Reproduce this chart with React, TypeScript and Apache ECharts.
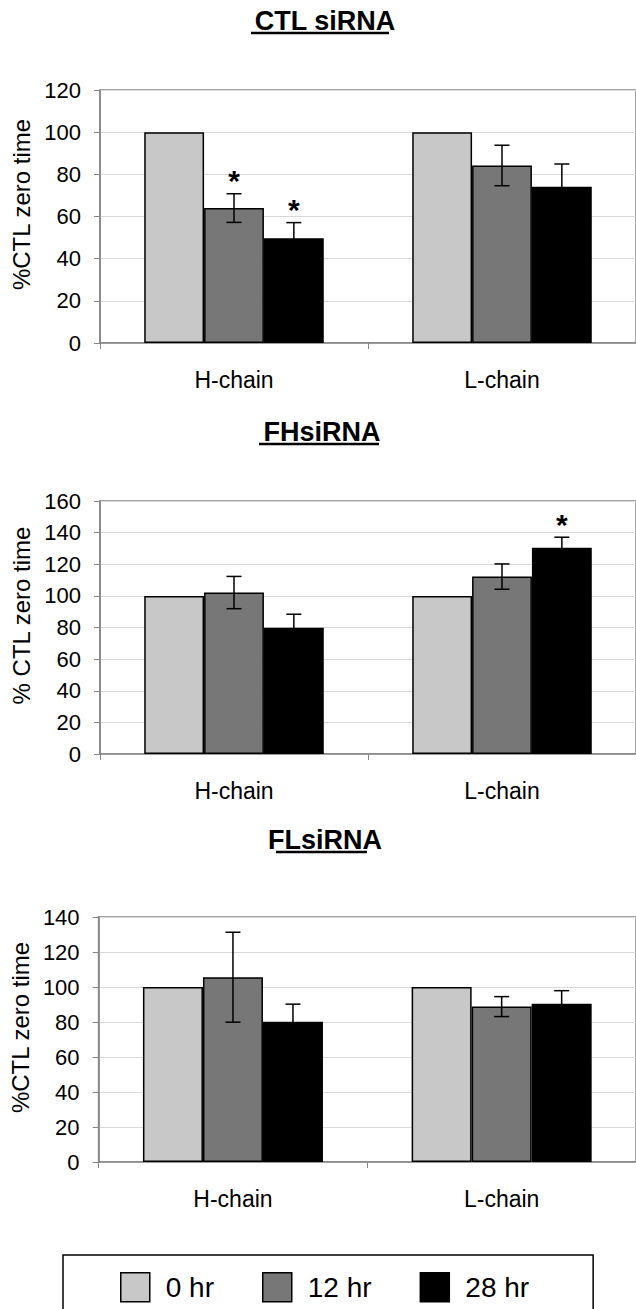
import React, { useEffect, useRef } from "react";
import * as echarts from "echarts";

const FONT = '"Liberation Sans", Arial, Helvetica, sans-serif';

const categories = ["H-chain", "L-chain"];
const timeLabels = ["0 hr", "12 hr", "28 hr"];
const barColors = ["#c8c8c8", "#777777", "#000000"];

// CTL siRNA
const ctl0hr = [100, 100];
const ctl12hr = [64, 84.2];
const ctl28hr = [49.7, 74.1];
const ctl12hrErr = [6.8, 9.6];
const ctl28hrErr = [7.4, 10.8];
const ctlStar12hr = [1, 0];
const ctlStar28hr = [1, 0];

// FHsiRNA
const fh0hr = [100, 100];
const fh12hr = [102.1, 112.2];
const fh28hr = [79.8, 130.5];
const fh12hrErr = [10.2, 8];
const fh28hrErr = [8.6, 6.6];
const fhStar12hr = [0, 0];
const fhStar28hr = [0, 1];

// FLsiRNA
const fl0hr = [100, 100];
const fl12hr = [105.6, 88.8];
const fl28hr = [80.1, 90.4];
const fl12hrErr = [25.7, 5.7];
const fl28hrErr = [10.1, 7.5];
const flStar12hr = [0, 0];
const flStar28hr = [0, 0];

const panelTitles = ["CTL siRNA", "FHsiRNA", "FLsiRNA"];
const yNames = ["%CTL zero time", "% CTL zero time", "%CTL zero time"];
const yMaxes = [120, 160, 140];
const yInterval = 20;

const CAT_GAP = 0.33;

function buildOption() {
  const panels = [
    { vals: [ctl0hr, ctl12hr, ctl28hr], errs: [null, ctl12hrErr, ctl28hrErr], stars: [null, ctlStar12hr, ctlStar28hr] },
    { vals: [fh0hr, fh12hr, fh28hr], errs: [null, fh12hrErr, fh28hrErr], stars: [null, fhStar12hr, fhStar28hr] },
    { vals: [fl0hr, fl12hr, fl28hr], errs: [null, fl12hrErr, fl28hrErr], stars: [null, flStar12hr, flStar28hr] },
  ];

  const layout = [
    { grid: { left: 100, top: 90, width: 540, height: 253 }, nameGap: 62, tx: 325, ty: 21, ul: [251, 389], ulY: 33 },
    { grid: { left: 100, top: 501, width: 540, height: 253 }, nameGap: 62, tx: 322, ty: 432, ul: [259, 379], ulY: 444 },
    { grid: { left: 98, top: 917, width: 546, height: 245 }, nameGap: 56, tx: 325, ty: 840, ul: [276, 367], ulY: 852 },
  ];

  const axisGray = "#868686";

  const grids: any[] = [];
  const xAxes: any[] = [];
  const yAxes: any[] = [];
  const series: any[] = [];
  const graphics: any[] = [];

  panels.forEach((p, pi) => {
    const L = layout[pi];
    grids.push({
      ...L.grid,
      show: true,
      borderColor: axisGray,
      borderWidth: 1.5,
      backgroundColor: "#ffffff",
      containLabel: false,
    });
    xAxes.push({
      type: "category",
      gridIndex: pi,
      data: categories,
      boundaryGap: true,
      axisLine: { show: true, lineStyle: { color: axisGray, width: 1.5 } },
      axisTick: { show: true, length: 6, alignWithLabel: false, lineStyle: { color: axisGray, width: 1 } },
      axisLabel: { fontSize: 23, color: "#000", margin: 25, fontFamily: FONT },
      splitLine: { show: false },
    });
    yAxes.push({
      type: "value",
      gridIndex: pi,
      min: 0,
      max: yMaxes[pi],
      interval: yInterval,
      axisLine: { show: true, lineStyle: { color: axisGray, width: 1.5 } },
      axisTick: { show: true, length: 6, lineStyle: { color: axisGray, width: 1 } },
      axisLabel: { fontSize: 22, color: "#000", margin: 19, fontFamily: FONT },
      splitLine: { show: true, lineStyle: { color: "#d9d9d9", width: 1 } },
      name: yNames[pi],
      nameLocation: "middle",
      nameRotate: 90,
      nameGap: L.nameGap,
      nameTextStyle: { fontSize: 24, color: "#000", fontFamily: FONT, padding: [0, 0, 0, 24] },
    });

    p.vals.forEach((v, si) => {
      series.push({
        name: timeLabels[si],
        type: "bar",
        xAxisIndex: pi,
        yAxisIndex: pi,
        data: v,
        barGap: "0%",
        barCategoryGap: CAT_GAP * 100 + "%",
        itemStyle: { color: barColors[si], borderColor: "#000", borderWidth: 1.5 },
        silent: true,
      });
    });

    const errData: any[] = [];
    p.vals.forEach((v, si) => {
      const e = p.errs[si];
      const st = p.stars[si];
      if (!e) return;
      v.forEach((val, ci) => {
        errData.push([ci, val, e[ci], si, st ? st[ci] : 0]);
      });
    });

    series.push({
      type: "custom",
      xAxisIndex: pi,
      yAxisIndex: pi,
      z: 10,
      silent: true,
      encode: { x: 0, y: 1 },
      data: errData,
      renderItem: (params: any, api: any) => {
        const ci = api.value(0);
        const val = api.value(1);
        const err = api.value(2);
        const si = api.value(3);
        const star = api.value(4);
        const catW = api.size([1, 0])[0];
        const bw = (catW * (1 - CAT_GAP)) / 3;
        const base = api.coord([ci, val]);
        const x = base[0] + (si - 1) * bw;
        const yTop = api.coord([ci, val + err])[1];
        const yBot = api.coord([ci, val - err])[1];
        const cap = 7.5;
        const ls = { stroke: "#000", lineWidth: 1.5 };
        const children: any[] = [
          { type: "line", shape: { x1: x, y1: yTop, x2: x, y2: yBot }, style: ls },
          { type: "line", shape: { x1: x - cap, y1: yTop, x2: x + cap, y2: yTop }, style: ls },
          { type: "line", shape: { x1: x - cap, y1: yBot, x2: x + cap, y2: yBot }, style: ls },
        ];
        if (star) {
          children.push({
            type: "text",
            style: {
              text: "*",
              x: x,
              y: yTop - 13,
              align: "center",
              verticalAlign: "middle",
              fontSize: 30,
              fontWeight: "bold",
              fontFamily: FONT,
              fill: "#000",
            },
          });
        }
        return { type: "group", children };
      },
    });

    graphics.push({
      type: "text",
      x: L.tx,
      y: L.ty,
      style: {
        text: panelTitles[pi],
        fontSize: 27,
        fontWeight: "bold",
        fontFamily: FONT,
        fill: "#000",
        align: "center",
        verticalAlign: "middle",
      },
    });
    graphics.push({
      type: "line",
      shape: { x1: L.ul[0], y1: L.ulY, x2: L.ul[1], y2: L.ulY },
      style: { stroke: "#000", lineWidth: 2.5 },
    });
  });

  return {
    animation: false,
    backgroundColor: "#ffffff",
    textStyle: { fontFamily: FONT },
    grid: grids,
    xAxis: xAxes,
    yAxis: yAxes,
    series,
    graphic: graphics,
    legend: {
      data: timeLabels,
      left: 63,
      top: 1255,
      orient: "horizontal",
      padding: [17, 64, 40, 57],
      borderColor: "#000",
      borderWidth: 1.5,
      itemWidth: 29,
      itemHeight: 29,
      itemGap: 48,
      icon: "rect",
      selectedMode: false,
      textStyle: { fontSize: 28, color: "#000", fontFamily: FONT, padding: [0, 0, 0, 11] },
      itemStyle: { borderColor: "#000", borderWidth: 1.5 },
    },
  };
}

export default function App() {
  const ref = useRef<HTMLDivElement>(null);
  useEffect(() => {
    if (!ref.current) return;
    const chart = echarts.init(ref.current, undefined, { renderer: "svg" });
    chart.setOption(buildOption() as any);
    return () => chart.dispose();
  }, []);
  return (
    <div
      ref={ref}
      style={{ position: "absolute", left: 0, top: 0, width: 636, height: 1309, overflow: "hidden", background: "#fff" }}
    />
  );
}
